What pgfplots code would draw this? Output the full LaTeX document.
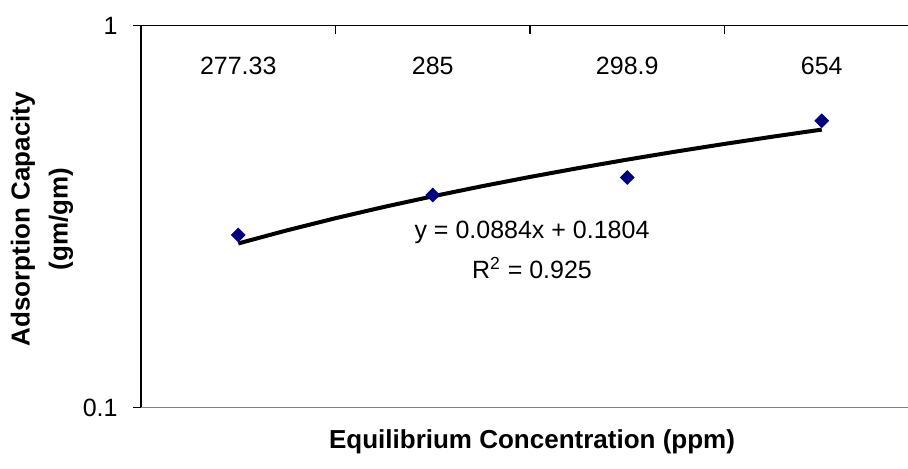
\documentclass[border=0pt]{standalone}
\usepackage{pgfplots}
\pgfplotsset{compat=1.18}
\usepackage{fontspec}
\setmainfont{Liberation Sans}
\definecolor{navymark}{HTML}{000080}
\definecolor{bottomgray}{HTML}{808080}
\begin{document}
\begin{tikzpicture}
\path[use as bounding box] (-70.5bp,-30.75bp) rectangle (383.5bp,203.75bp);
\clip (-70.5bp,-30.75bp) rectangle (383.5bp,203.75bp);
\begin{axis}[
  at={(0,0)}, anchor=south west,
  scale only axis, width=389bp, height=191bp,
  xmin=0.5, xmax=4.5, ymin=0.1, ymax=1, ymode=log,
  axis x line*=top, axis y line*=left,
  axis line style={-, black, line width=0.75bp},
  xtick={1,2,3,4}, xticklabels={277.33,285,298.9,654},
  major x tick style={draw=none},
  minor xtick={0.5,1.5,2.5,3.5,4.5},
  minor x tick style={black, line width=0.6bp},
  xtick align=inside,
  minor tick length=4.5bp,
  major tick length=4bp,
  xticklabel pos=upper,
  xticklabel style={anchor=center, yshift=-20.25bp},
  ytick={0.1,1}, yticklabels={0.1,1},
  yminorticks=false,
  ytick align=outside,
  major y tick style={black, line width=0.6bp},
  yticklabel style={anchor=east, inner sep=0pt, xshift=-7.5bp},
  tick label style={font=\fontsize{12.5bp}{15bp}\selectfont},
  clip=false,
]
\addplot[black, line width=2bp, no marks] coordinates {
(1,0.2688) (1.25,0.2909) (1.5,0.3130) (1.75,0.3351) (2,0.3572)
(2.25,0.3793) (2.5,0.4014) (2.75,0.4235) (3,0.4456) (3.25,0.4677)
(3.5,0.4898) (3.75,0.5119) (4,0.5340)};
\addplot[only marks, mark=square*, mark size=2.4bp,
  mark options={rotate=45, fill=navymark, draw=navymark}] coordinates {
(1,0.283) (2,0.360) (3,0.400) (4,0.563)};
\end{axis}
\draw[bottomgray, line width=0.75bp] (0,0) -- (389bp,0);
\node[anchor=base, font=\fontsize{12.5bp}{15bp}\selectfont] at (195.5bp,84.6bp) {y = 0.0884x + 0.1804};
\node[anchor=base, font=\fontsize{12.5bp}{15bp}\selectfont] at (195.5bp,64.6bp) {R\textsuperscript{2} = 0.925};
\node[anchor=base, font=\fontsize{13bp}{15bp}\selectfont\bfseries] at (195.5bp,-20.25bp) {Equilibrium Concentration (ppm)};
\node[rotate=90, align=center, font=\fontsize{13bp}{19bp}\selectfont\bfseries] at (-49.5bp,94.25bp) {Adsorption Capacity\\(gm/gm)};
\end{tikzpicture}
\end{document}
